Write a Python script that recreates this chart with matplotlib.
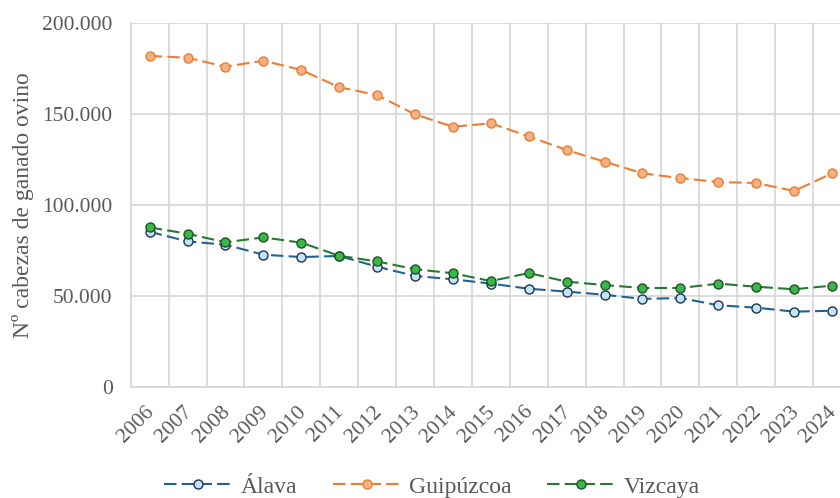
import matplotlib.pyplot as plt
from matplotlib.ticker import FuncFormatter, MultipleLocator
from matplotlib.transforms import ScaledTranslation
import numpy as np

plt.rcParams['font.family'] = ['Liberation Serif', 'DejaVu Serif']

years = [str(y) for y in range(2006, 2025)]
alava = [85300, 80000, 78200, 72700, 71400, 72000, 66100, 61000, 59200, 56800,
         54000, 52400, 50700, 48400, 48900, 44900, 43600, 41400, 41900]
guipuzcoa = [181900, 180900, 176000, 179300, 174200, 164700, 160400, 149800, 143000, 144900,
             137700, 130200, 123800, 117400, 114800, 112600, 112100, 107700, 117400]
vizcaya = [87700, 84200, 79500, 82200, 79300, 72100, 69000, 64700, 62500, 58200,
           62600, 57900, 56000, 54400, 54400, 56800, 55100, 53700, 55700]

series = [
    ('Álava', alava, '#1f6391', '#c5e3f6', '#1c3550'),
    ('Guipúzcoa', guipuzcoa, '#ed7d31', '#f4b183', '#ed7d31'),
    ('Vizcaya', vizcaya, '#237a30', '#3cb54a', '#1d5425'),
]

text_color = '#595959'
grid_color = '#d9d9d9'

fig = plt.figure(figsize=(8.4, 4.98), dpi=100)
ax = fig.add_axes([130.7 / 840, 1 - 387 / 498, (851 - 130.7) / 840, (387 - 23) / 498])

x = np.arange(len(years))
for name, vals, lc, fc, ec in series:
    ax.plot(x, vals, color=lc, lw=1.5, dashes=(6, 2.5), marker='o', markersize=6.5,
            markerfacecolor=fc, markeredgecolor=ec, markeredgewidth=1.0, label=name,
            clip_on=False, zorder=3)

ax.set_xlim(-0.5, len(years) - 0.5)
ax.set_ylim(0, 200000)
ax.yaxis.set_major_locator(MultipleLocator(50000))
ax.yaxis.set_major_formatter(FuncFormatter(lambda v, p: f'{int(v):,}'.replace(',', '.')))
ax.set_xticks(x)
ax.set_xticklabels(years, rotation=45, ha='right', rotation_mode='anchor')
ax.set_xticks(np.arange(-0.5, len(years)), minor=True)

ax.grid(axis='y', which='major', color=grid_color, lw=1.3)
ax.grid(axis='x', which='minor', color=grid_color, lw=1.3)
ax.set_axisbelow(True)
for s in ['top', 'right']:
    ax.spines[s].set_visible(False)
for s in ['left', 'bottom']:
    ax.spines[s].set_color(grid_color)
    ax.spines[s].set_linewidth(1.3)

ax.tick_params(axis='both', which='both', length=0, labelsize=15.5, labelcolor=text_color)
ax.tick_params(axis='y', pad=13)
ax.tick_params(axis='x', pad=11)

# shift the rotated year labels a little to the left, like the original
shift = ScaledTranslation(-5 / 100, 0, fig.dpi_scale_trans)
for lab in ax.get_xticklabels():
    lab.set_transform(lab.get_transform() + shift)

ax.set_ylabel('Nº cabezas de ganado ovino', fontsize=17, color=text_color, labelpad=6)

fig.legend(loc='center', bbox_to_anchor=(432 / 840, 1 - 487 / 498), ncol=3, frameon=False,
           fontsize=17, labelcolor=text_color, handlelength=2.9, columnspacing=1.5,
           handletextpad=0.35)

fig.savefig('out.png', dpi=100)
